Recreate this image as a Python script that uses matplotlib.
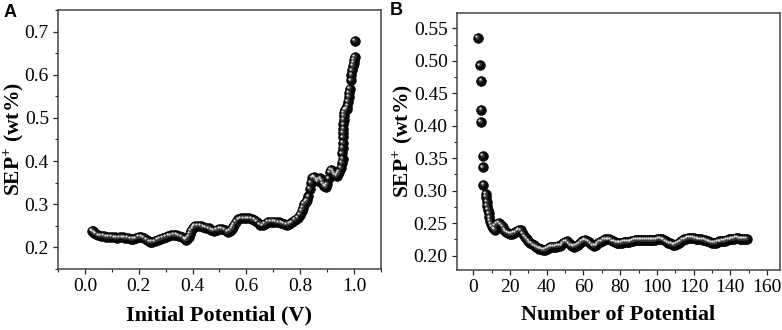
import matplotlib
matplotlib.use("Agg")
import matplotlib.pyplot as plt
from matplotlib.ticker import MultipleLocator
from matplotlib.transforms import offset_copy

plt.rcParams['font.family'] = ['Liberation Serif', 'DejaVu Serif']
plt.rcParams['mathtext.fontset'] = 'custom'
plt.rcParams['mathtext.rm'] = 'Liberation Serif'
plt.rcParams['mathtext.bf'] = 'Liberation Serif:bold'

# ---------------- Panel A data ----------------
a_potential = [0.027, 0.03, 0.035, 0.04, 0.05, 0.06, 0.07, 0.08, 0.09, 0.10,
               0.11, 0.12, 0.13, 0.14, 0.15, 0.16, 0.17, 0.18, 0.19, 0.20,
               0.21, 0.22, 0.23, 0.24, 0.25, 0.26, 0.27, 0.28, 0.29, 0.30,
               0.31, 0.32, 0.33, 0.34, 0.35, 0.36, 0.37, 0.375, 0.38, 0.385,
               0.39, 0.395, 0.40, 0.405, 0.41, 0.42, 0.43, 0.44, 0.45, 0.46,
               0.47, 0.48, 0.49, 0.50, 0.51, 0.52, 0.53, 0.54, 0.545, 0.55,
               0.555, 0.56, 0.57, 0.58, 0.59, 0.60, 0.61, 0.62, 0.63, 0.64,
               0.65, 0.66, 0.67, 0.68, 0.69, 0.70, 0.71, 0.72, 0.73, 0.74,
               0.75, 0.76, 0.77, 0.78, 0.79, 0.80, 0.805, 0.81, 0.815, 0.82,
               0.825, 0.83, 0.835, 0.84, 0.845, 0.85, 0.855, 0.86, 0.865, 0.87,
               0.875, 0.88, 0.885, 0.89, 0.895, 0.90, 0.905, 0.91, 0.915, 0.92,
               0.925, 0.93, 0.935, 0.94, 0.945, 0.95, 0.955, 0.957, 0.956, 0.957,
               0.958, 0.958, 0.959, 0.960, 0.960, 0.961, 0.962, 0.963, 0.965, 0.968,
               0.972, 0.975, 0.978, 0.980, 0.982, 0.985, 0.988, 0.990, 0.993, 0.995,
               0.998, 1.000, 1.002, 1.003]
a_sep = [0.239, 0.237, 0.234, 0.231, 0.228, 0.227, 0.226, 0.225, 0.225, 0.224,
         0.223, 0.222, 0.223, 0.223, 0.222, 0.222, 0.220, 0.219, 0.221, 0.224,
         0.225, 0.222, 0.217, 0.213, 0.212, 0.214, 0.217, 0.219, 0.222, 0.225,
         0.227, 0.228, 0.229, 0.229, 0.227, 0.224, 0.220, 0.218, 0.219, 0.224,
         0.231, 0.238, 0.244, 0.248, 0.250, 0.250, 0.249, 0.248, 0.246, 0.244,
         0.241, 0.239, 0.241, 0.243, 0.243, 0.240, 0.236, 0.238, 0.242, 0.247,
         0.253, 0.259, 0.265, 0.267, 0.267, 0.267, 0.267, 0.266, 0.264, 0.260,
         0.253, 0.251, 0.255, 0.259, 0.260, 0.260, 0.259, 0.258, 0.257, 0.255,
         0.253, 0.255, 0.258, 0.263, 0.268, 0.276, 0.284, 0.292, 0.300, 0.305,
         0.309, 0.318, 0.335, 0.350, 0.361, 0.364, 0.361, 0.356, 0.353, 0.357,
         0.360, 0.355, 0.348, 0.342, 0.340, 0.346, 0.360, 0.374, 0.380, 0.378,
         0.372, 0.368, 0.366, 0.370, 0.375, 0.384, 0.395, 0.405, 0.418, 0.430,
         0.442, 0.455, 0.465, 0.475, 0.485, 0.495, 0.505, 0.512, 0.518, 0.519,
         0.520, 0.528, 0.538, 0.549, 0.558, 0.568, 0.587, 0.600, 0.610, 0.620,
         0.628, 0.635, 0.642, 0.678]

# ---------------- Panel B data ----------------
b_number = [2.7, 3.6, 4.5, 4.5, 4.2, 5.2, 5.2, 5.5, 6.8,
            7.0, 7.3, 7.6, 8.0, 8.4, 8.8, 9.2, 9.7, 10.3, 11.0, 11.8,
            12, 13, 14, 15, 16, 17, 18, 19, 20, 21, 22, 23, 24, 25, 26, 27, 28,
            29, 30, 31, 32, 33, 34, 35, 36, 37, 38, 39, 40, 41, 42, 43, 44, 45,
            46, 47, 48, 49, 50, 51, 52, 53, 54, 55, 56, 57, 58, 59, 60, 61, 62,
            63, 64, 65, 66, 67, 68, 69, 70, 71, 72, 73, 74, 75, 76, 77, 78, 79,
            80, 81, 82, 83, 84, 85, 86, 87, 88, 89, 90, 91, 92, 93, 94, 95, 96,
            97, 98, 99, 100, 101, 102, 103, 104, 105, 106, 107, 108, 109, 110,
            111, 112, 113, 114, 115, 116, 117, 118, 119, 120, 121, 122, 123, 124,
            125, 126, 127, 128, 129, 130, 131, 132, 133, 134, 135, 136, 137, 138,
            139, 140, 141, 142, 143, 144, 145, 146, 147, 148, 149]
b_sep = [0.535, 0.493, 0.469, 0.424, 0.406, 0.354, 0.336, 0.309, 0.295,
         0.290, 0.283, 0.277, 0.271, 0.265, 0.259, 0.254, 0.249, 0.245, 0.242, 0.240,
         0.246, 0.249, 0.250, 0.248, 0.244, 0.240, 0.237, 0.235, 0.234, 0.234,
         0.235, 0.236, 0.238, 0.240, 0.239, 0.234, 0.229, 0.226, 0.223, 0.220,
         0.218, 0.216, 0.214, 0.212, 0.211, 0.210, 0.209, 0.209, 0.210, 0.212,
         0.213, 0.214, 0.214, 0.214, 0.215, 0.215, 0.216, 0.219, 0.221, 0.222,
         0.219, 0.216, 0.215, 0.214, 0.215, 0.217, 0.219, 0.222, 0.223, 0.224,
         0.223, 0.221, 0.218, 0.216, 0.215, 0.216, 0.219, 0.221, 0.222, 0.224,
         0.225, 0.225, 0.225, 0.224, 0.222, 0.221, 0.220, 0.220, 0.220, 0.220,
         0.221, 0.221, 0.221, 0.221, 0.222, 0.223, 0.224, 0.224, 0.224, 0.224,
         0.224, 0.224, 0.224, 0.224, 0.224, 0.224, 0.224, 0.224, 0.225, 0.226,
         0.226, 0.225, 0.224, 0.222, 0.220, 0.219, 0.218, 0.217, 0.217, 0.218,
         0.220, 0.222, 0.224, 0.225, 0.226, 0.227, 0.227, 0.227, 0.227, 0.226,
         0.226, 0.225, 0.225, 0.224, 0.224, 0.223, 0.222, 0.221, 0.220, 0.220,
         0.220, 0.221, 0.222, 0.222, 0.223, 0.223, 0.224, 0.225, 0.225, 0.226,
         0.226, 0.227, 0.227, 0.226, 0.226, 0.226, 0.226, 0.226]

fig = plt.figure(figsize=(7.82, 3.30), dpi=100)
axA = fig.add_axes([58 / 782, 61 / 330, 323 / 782, 259 / 330])
axB = fig.add_axes([456.7 / 782, 60 / 330, 323.3 / 782, 257.3 / 330])


def spheres(ax, x, y):
    ax.scatter(x, y, s=50, c='#0a0a0a', edgecolors='#000000', linewidths=0.4, zorder=3)
    t1 = offset_copy(ax.transData, fig=fig, x=-0.8, y=0.8, units='points')
    ax.scatter(x, y, s=10, c='#3c3c3c', linewidths=0, transform=t1, zorder=4)
    t2 = offset_copy(ax.transData, fig=fig, x=-1.3, y=1.3, units='points')
    ax.scatter(x, y, s=2.6, c='#dcdcdc', linewidths=0, transform=t2, zorder=5)


def style(ax):
    for sp in ax.spines.values():
        sp.set_color('#444444')
        sp.set_linewidth(1.1)
    ax.tick_params(which='both', direction='out', top=False, right=False,
                   colors='#222222', labelsize=14, labelcolor='black', pad=3)
    ax.tick_params(which='major', length=3.5, width=0.9)
    ax.tick_params(which='minor', length=2, width=0.8)


spheres(axA, a_potential, a_sep)
axA.set_xlim(-0.1, 1.1)
axA.set_ylim(0.15, 0.75)
axA.xaxis.set_minor_locator(MultipleLocator(0.1))
axA.yaxis.set_minor_locator(MultipleLocator(0.05))
axA.set_xticks([0.0, 0.2, 0.4, 0.6, 0.8, 1.0])
axA.set_xticklabels(['0.0', '0.2', '0.4', '0.6', '0.8', '1.0'])
axA.set_yticks([0.2, 0.3, 0.4, 0.5, 0.6, 0.7])
axA.set_yticklabels(['0.2', '0.3', '0.4', '0.5', '0.6', '0.7'])
style(axA)
axA.set_xlabel('Initial Potential (V)', fontsize=16, fontweight='bold', va='center')
axA.xaxis.set_label_coords(0.5, (15 - 61) / 259)
axA.set_ylabel(r'SEP$^{\mathbf{+}}$ (wt%)', fontsize=15.5, fontweight='bold', va='center')
axA.yaxis.set_label_coords((13.5 - 58) / 323, 0.5)

spheres(axB, b_number, b_sep)
axB.set_xlim(-9, 167)
axB.set_ylim(0.178, 0.574)
axB.xaxis.set_major_locator(MultipleLocator(20))
axB.xaxis.set_minor_locator(MultipleLocator(10))
axB.yaxis.set_minor_locator(MultipleLocator(0.025))
axB.set_yticks([0.20, 0.25, 0.30, 0.35, 0.40, 0.45, 0.50, 0.55])
axB.set_yticklabels(['0.20', '0.25', '0.30', '0.35', '0.40', '0.45', '0.50', '0.55'])
style(axB)
axB.set_xlabel('Number of Potential', fontsize=16, fontweight='bold', va='center')
axB.xaxis.set_label_coords(0.5, (15 - 60) / 257.3)
axB.set_ylabel(r'SEP$^{\mathbf{+}}$ (wt%)', fontsize=15.5, fontweight='bold', va='center')
axB.yaxis.set_label_coords((402.5 - 456.7) / 323.3, 0.5)

fig.text(4 / 782, 1 - 4 / 330, 'A', fontsize=13, fontweight='bold',
         family='Liberation Sans', ha='left', va='top')
fig.text(390 / 782, 1 - 2 / 330, 'B', fontsize=13, fontweight='bold',
         family='Liberation Sans', ha='left', va='top')

fig.savefig('out.png', dpi=100)
